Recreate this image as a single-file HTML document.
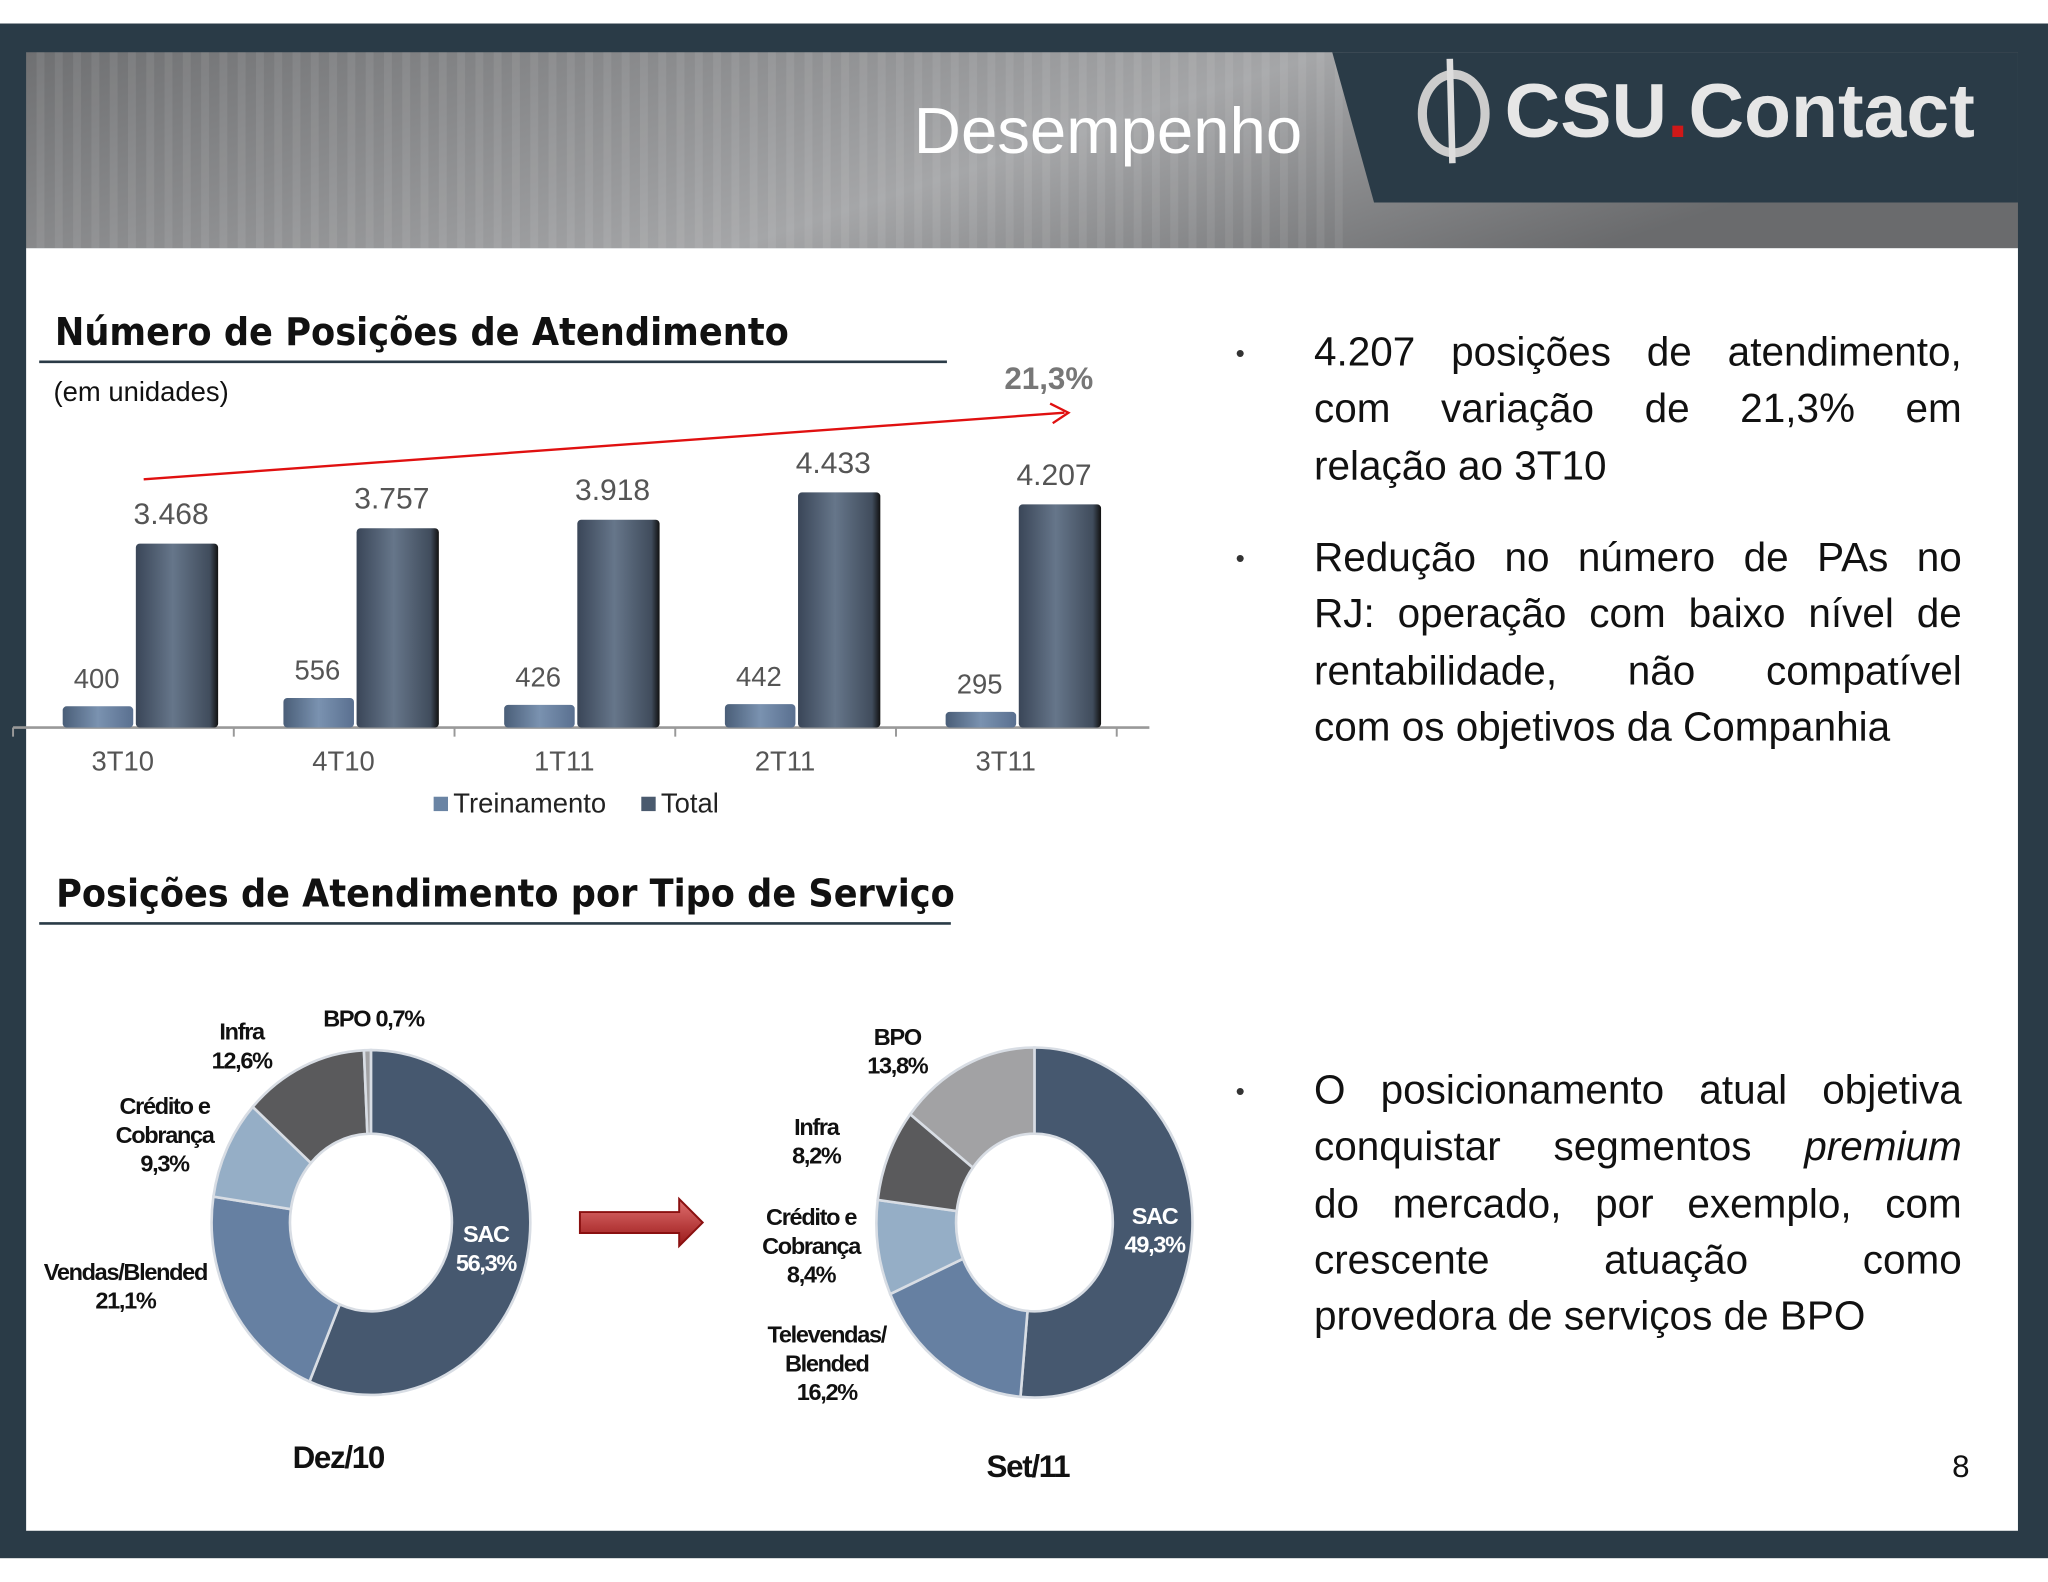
<!DOCTYPE html>
<html><head><meta charset="utf-8"><style>
html,body{margin:0;padding:0;background:#fff;}
#wrap{position:relative;width:1568px;height:1211.3px;transform:scale(1.30612);transform-origin:0 0;overflow:hidden;font-family:"Liberation Sans",sans-serif;}
.abs{position:absolute;}
.bul{position:absolute;left:1006px;width:496px;font-size:31px;line-height:43.3px;color:#111;}
.bul span{display:block;white-space:nowrap;text-align:justify;text-align-last:justify;}
.bul span.last{text-align-last:left;}
.dot{position:absolute;left:946px;font-size:20px;color:#333;}
</style></head><body>
<div id="wrap">
<svg id="svg" class="abs" style="left:0;top:0" width="1568" height="1211.3" viewBox="0 0 1568 1211.3">
<defs>
<linearGradient id="hdr" x1="0" y1="0" x2="1" y2="0.3"><stop offset="0" stop-color="#6f7072"/><stop offset="0.6" stop-color="#a5a6a8"/><stop offset="1" stop-color="#6a6b6d"/></linearGradient>
<pattern id="stripes" width="14" height="200" patternUnits="userSpaceOnUse"><rect width="6" height="200" fill="#ffffff" opacity="0.07"/></pattern>
<linearGradient id="barT" x1="0" x2="1"><stop offset="0" stop-color="#4a5e78"/><stop offset="0.5" stop-color="#7a92b0"/><stop offset="1" stop-color="#5a7090"/></linearGradient>
<linearGradient id="barD" x1="0" x2="1"><stop offset="0" stop-color="#3a4658"/><stop offset="0.45" stop-color="#66768a"/><stop offset="0.9" stop-color="#404c5c"/><stop offset="1" stop-color="#111"/></linearGradient>
<linearGradient id="arr" x1="0" y1="0" x2="0" y2="1"><stop offset="0" stop-color="#e07070"/><stop offset="1" stop-color="#9a1818"/></linearGradient>
</defs>
<rect x="0" y="18" width="1568" height="1175" fill="#2a3b47"/>
<rect x="20" y="40" width="1525" height="150" fill="url(#hdr)"/>
<rect x="20" y="40" width="1010" height="150" fill="url(#stripes)"/>
<polygon points="1020,40 1545,40 1545,155 1052,155" fill="#2a3b47"/>
<rect x="20" y="190" width="1525" height="982" fill="#fff"/>
<text x="997" y="117" text-anchor="end" font-size="50" fill="#fff" font-family="Liberation Sans, sans-serif">Desempenho</text>
<g>
<ellipse cx="1113" cy="87" rx="24" ry="30" fill="none" stroke="#ccc" stroke-width="7"/>
<line x1="1110" y1="45" x2="1112" y2="125" stroke="#ddd" stroke-width="5"/>
<text x="1152" y="105" font-size="58" font-weight="bold" fill="#e6e6e6" font-family="Liberation Sans, sans-serif" textLength="360" lengthAdjust="spacingAndGlyphs">CSU<tspan fill="#d01818">.</tspan>Contact</text>
</g>
<text x="42" y="264" font-size="29" font-weight="bold" fill="#111" font-family="DejaVu Sans, sans-serif" textLength="562" lengthAdjust="spacingAndGlyphs">Número de Posições de Atendimento</text>
<line x1="30" y1="277" x2="725" y2="277" stroke="#2a3b47" stroke-width="2"/>
<text x="41" y="307" font-size="21" fill="#111" font-family="Liberation Sans, sans-serif">(em unidades)</text>
<g id="bars"></g>
<text x="43" y="694" font-size="29" font-weight="bold" fill="#111" font-family="DejaVu Sans, sans-serif" textLength="688" lengthAdjust="spacingAndGlyphs">Posições de Atendimento por Tipo de Serviço</text>
<line x1="30" y1="707" x2="728" y2="707" stroke="#2a3b47" stroke-width="2"/>
<g id="donuts"></g>
<polygon points="444,928 520,928 520,918 538,936 520,954 520,944 444,944" fill="url(#arr)" stroke="#8a1010" stroke-width="1.5"/>
<text x="1508" y="1131" text-anchor="end" font-size="24" fill="#111" font-family="Liberation Sans, sans-serif">8</text>
</svg>
<div class="dot" style="top:260px">•</div>
<div class="bul" style="top:248px"><span>4.207 posições de atendimento,</span><span>com variação de 21,3% em</span><span class="last">relação ao 3T10</span></div>
<div class="dot" style="top:417px">•</div>
<div class="bul" style="top:405px"><span>Redução no número de PAs no</span><span>RJ: operação com baixo nível de</span><span>rentabilidade, não compatível</span><span class="last">com os objetivos da Companhia</span></div>
<div class="dot" style="top:825px">•</div>
<div class="bul" style="top:813px"><span>O posicionamento atual objetiva</span><span>conquistar segmentos <i>premium</i></span><span>do mercado, por exemplo, com</span><span>crescente atuação como</span><span class="last">provedora de serviços de BPO</span></div>
</div>
<script>
const categories = ["3T10","4T10","1T11","2T11","3T11"];
const treinamento = [400,556,426,442,295];
const total = [3468,3757,3918,4433,4207];
const totalLabels = ["3.468","3.757","3.918","4.433","4.207"];
const growthLabel = "21,3%";
const donutLeftNames = ["SAC","Vendas/Blended","Crédito e Cobrança","Infra","BPO"];
const donutLeftValues = [56.3,21.1,9.3,12.6,0.7];
const donutRightNames = ["SAC","Televendas/Blended","Crédito e Cobrança","Infra","BPO"];
const donutRightValues = [49.3,16.2,8.4,8.2,13.8];

const NS="http://www.w3.org/2000/svg";
function mk(tag,attrs,parent,txt){const e=document.createElementNS(NS,tag);for(const k in attrs)e.setAttribute(k,attrs[k]);if(txt!==undefined)e.textContent=txt;parent.appendChild(e);return e;}
const base=557, k=180/4433;
const y=v=>base-v*k;
const xc=i=>94+i*169;
const g=document.getElementById('bars');
const axis=mk('line',{x1:10,y1:base,x2:880,y2:base,stroke:'#999','stroke-width':2},g);


for(let i=0;i<=5;i++){const t=mk('line',{x1:10+i*169,y1:base,x2:10+i*169,y2:base+7,stroke:'#999','stroke-width':1.5},g);

}
categories.forEach((c,i)=>{
  const cx=xc(i);
  const b1=mk('rect',{x:cx-46,y:y(treinamento[i]),width:54,height:treinamento[i]*k,rx:3,fill:'url(#barT)'},g);
  
  
  const b2=mk('rect',{x:cx+10,y:y(total[i]),width:63,height:total[i]*k,rx:3,fill:'url(#barD)'},g);
  
  
  const l1=mk('text',{x:cx-20,y:y(treinamento[i])-14,'text-anchor':'middle','font-size':21,fill:'#555','font-family':'Liberation Sans, sans-serif'},g,String(treinamento[i]));
  
  
  const l2=mk('text',{x:cx+37,y:y(total[i])-15,'text-anchor':'middle','font-size':23,fill:'#555','font-family':'Liberation Sans, sans-serif'},g,totalLabels[i]);
  
  
  const l3=mk('text',{x:cx,y:590,'text-anchor':'middle','font-size':21,fill:'#555','font-family':'Liberation Sans, sans-serif'},g,c);
  
  
});
const tl=mk('line',{x1:110,y1:367,x2:815,y2:316,stroke:'#e01010','stroke-width':1.8},g);


const th=mk('polyline',{points:'804,309 818,316 806,324',fill:'none',stroke:'#e01010','stroke-width':1.8},g);


const gl=mk('text',{x:803,y:298,'text-anchor':'middle','font-size':24,'font-weight':'bold',fill:'#777','font-family':'Liberation Sans, sans-serif'},g,growthLabel);


const lg=mk('g',{},g);


const lr1=mk('rect',{x:332,y:610,width:11,height:11,fill:'#6a84a4'},lg);


mk('text',{x:347,y:622,'font-size':21,fill:'#222','font-family':'Liberation Sans, sans-serif'},lg,'Treinamento');
const lr2=mk('rect',{x:491,y:610,width:11,height:11,fill:'#4a5a6e'},lg);


mk('text',{x:506,y:622,'font-size':21,fill:'#222','font-family':'Liberation Sans, sans-serif'},lg,'Total');

const colors=['#46586f','#6680a2','#95aec6','#5a5a5c','#a2a2a4'];
const dg=document.getElementById('donuts');
function donut(cx,cy,rx,ry,irx,iry,vals,names,tag){
  const sum=vals.reduce((a,b)=>a+b,0);
  let a0=0;
  vals.forEach((v,i)=>{
    const a1=a0+v/sum*Math.PI*2;
    const P=(r1,r2,a)=>[cx+r1*Math.sin(a),cy-r2*Math.cos(a)];
    const [x1,y1]=P(rx,ry,a0),[x2,y2]=P(rx,ry,a1),[x3,y3]=P(irx,iry,a1),[x4,y4]=P(irx,iry,a0);
    const lf=(a1-a0)>Math.PI?1:0;
    const d=`M${x1},${y1} A${rx},${ry} 0 ${lf} 1 ${x2},${y2} L${x3},${y3} A${irx},${iry} 0 ${lf} 0 ${x4},${y4} Z`;
    const p=mk('path',{d:d,fill:colors[i],stroke:'#d8dde4','stroke-width':2},dg);
    
    
    a0=a1;
  });
}
donut(284,936,122,132,62,68,donutLeftValues,donutLeftNames,'dez10');
donut(792,936,121,134,60,68,donutRightValues,donutRightNames,'set11');
const lbl=[
 [185,796,['Infra','12,6%'],'#111'],[286,786,['BPO 0,7%'],'#111'],[126,853,['Crédito e','Cobrança','9,3%'],'#111'],
 [96,980,['Vendas/Blended','21,1%'],'#111'],[372,951,['SAC','56,3%'],'#fff'],
 [687,800,['BPO','13,8%'],'#111'],[625,869,['Infra','8,2%'],'#111'],[621,938,['Crédito e','Cobrança','8,4%'],'#111'],
 [633,1028,['Televendas/','Blended','16,2%'],'#111'],[884,937,['SAC','49,3%'],'#fff'],
 [259,1124,['Dez/10'],'#111'],[787,1131,['Set/11'],'#111']];
lbl.forEach(([x,yy,lines,c])=>{
  const t=mk('text',{x:x,y:yy,'text-anchor':'middle','font-size':(lines[0].startsWith('Dez')||lines[0].startsWith('Set'))?24:18,'font-weight':'bold',fill:c,'font-family':'Liberation Sans, sans-serif','letter-spacing':'-1'},dg);
  
  
  lines.forEach((s,j)=>mk('tspan',{x:x,dy:j?22:0},t,s));
});
</script>
</body></html>
